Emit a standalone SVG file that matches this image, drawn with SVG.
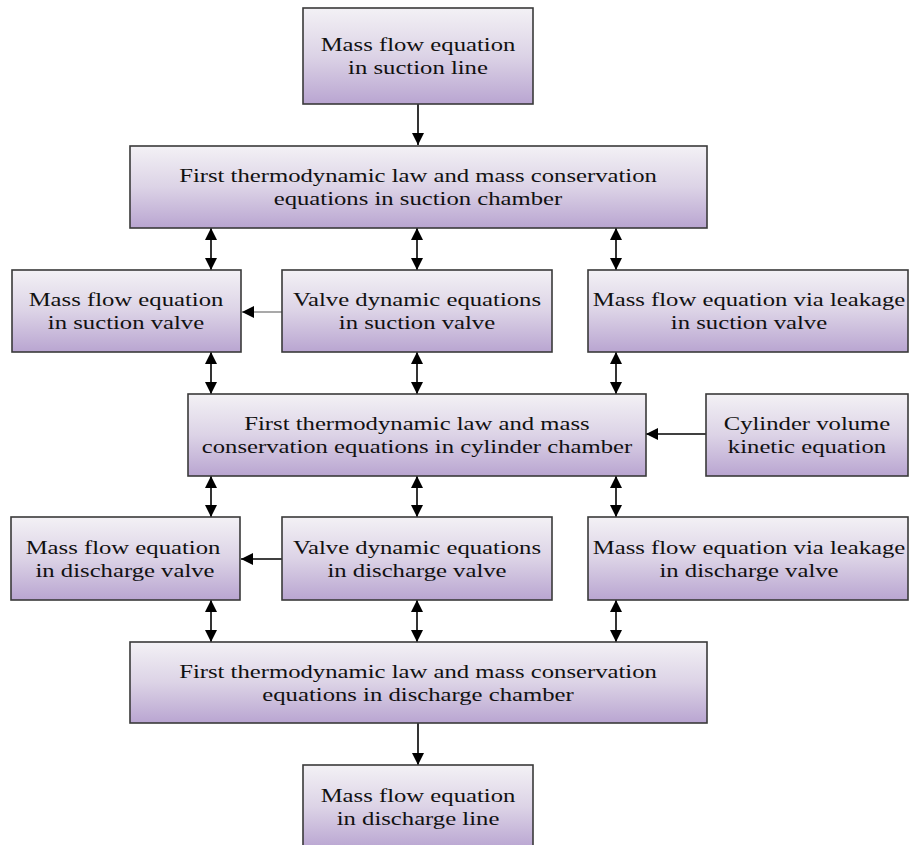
<svg xmlns="http://www.w3.org/2000/svg" width="909" height="845" viewBox="0 0 909 845">
<defs>
<linearGradient id="g" x1="0" y1="0" x2="0" y2="1">
<stop offset="0" stop-color="#f3f1f5"/>
<stop offset="0.5" stop-color="#dcd3e6"/>
<stop offset="1" stop-color="#b9a5d1"/>
</linearGradient>
<marker id="ah" viewBox="0 0 12 12" refX="12" refY="6" markerWidth="12" markerHeight="12" markerUnits="userSpaceOnUse" orient="auto-start-reverse">
<path d="M0,0 L12,6 L0,12 z" fill="#000"/>
</marker>
</defs>
<style>
.box{fill:url(#g);stroke:#3a3a3a;stroke-width:1.6}
.t{font-family:"Liberation Serif","Times New Roman",serif;font-size:19px;fill:#111;text-anchor:middle}
.c{stroke:#000;stroke-width:1.6;fill:none}
.thin{stroke:#555;stroke-width:1.2;fill:none}
</style>
<rect width="909" height="845" fill="#fff"/>

<g id="connectors">
<line class="c" x1="418" y1="104" x2="418" y2="145" marker-end="url(#ah)"/>
<line class="c" x1="211" y1="228" x2="211" y2="270" marker-start="url(#ah)" marker-end="url(#ah)"/>
<line class="c" x1="417" y1="228" x2="417" y2="270" marker-start="url(#ah)" marker-end="url(#ah)"/>
<line class="c" x1="616" y1="228" x2="616" y2="270" marker-start="url(#ah)" marker-end="url(#ah)"/>
<line class="thin" x1="282" y1="312" x2="242" y2="312" marker-end="url(#ah)"/>
<line class="c" x1="211" y1="352" x2="211" y2="394" marker-start="url(#ah)" marker-end="url(#ah)"/>
<line class="c" x1="417" y1="352" x2="417" y2="394" marker-start="url(#ah)" marker-end="url(#ah)"/>
<line class="c" x1="616" y1="352" x2="616" y2="394" marker-start="url(#ah)" marker-end="url(#ah)"/>
<line class="c" x1="706" y1="434" x2="646" y2="434" marker-end="url(#ah)"/>
<line class="c" x1="211" y1="476" x2="211" y2="517" marker-start="url(#ah)" marker-end="url(#ah)"/>
<line class="c" x1="417" y1="476" x2="417" y2="517" marker-start="url(#ah)" marker-end="url(#ah)"/>
<line class="c" x1="616" y1="476" x2="616" y2="517" marker-start="url(#ah)" marker-end="url(#ah)"/>
<line class="c" x1="282" y1="559" x2="241" y2="559" marker-end="url(#ah)"/>
<line class="c" x1="211" y1="600" x2="211" y2="642" marker-start="url(#ah)" marker-end="url(#ah)"/>
<line class="c" x1="417" y1="600" x2="417" y2="642" marker-start="url(#ah)" marker-end="url(#ah)"/>
<line class="c" x1="616" y1="600" x2="616" y2="642" marker-start="url(#ah)" marker-end="url(#ah)"/>
<line class="c" x1="418" y1="723" x2="418" y2="765" marker-end="url(#ah)"/>
</g>

<g id="n1">
<rect class="box" x="303" y="8" width="230" height="96"/>
<text class="t" transform="translate(418 51) scale(1.3 1)">Mass flow equation</text>
<text class="t" transform="translate(418 74) scale(1.3 1)">in suction line</text>
</g>

<g id="n2">
<rect class="box" x="130" y="146" width="577" height="82"/>
<text class="t" transform="translate(418 182) scale(1.3 1)">First thermodynamic law and mass conservation</text>
<text class="t" transform="translate(418 205) scale(1.3 1)">equations in suction chamber</text>
</g>

<g id="n3">
<rect class="box" x="12" y="270" width="229" height="82"/>
<text class="t" transform="translate(126 306) scale(1.3 1)">Mass flow equation</text>
<text class="t" transform="translate(126 329) scale(1.3 1)">in suction valve</text>
</g>

<g id="n4">
<rect class="box" x="282" y="270" width="270" height="82"/>
<text class="t" transform="translate(417 306) scale(1.3 1)">Valve dynamic equations</text>
<text class="t" transform="translate(417 329) scale(1.3 1)">in suction valve</text>
</g>

<g id="n5">
<rect class="box" x="588" y="270" width="320" height="82"/>
<text class="t" transform="translate(749 306) scale(1.3 1)">Mass flow equation via leakage</text>
<text class="t" transform="translate(749 329) scale(1.3 1)">in suction valve</text>
</g>

<g id="n6">
<rect class="box" x="188" y="394" width="458" height="82"/>
<text class="t" transform="translate(417 430) scale(1.3 1)">First thermodynamic law and mass</text>
<text class="t" transform="translate(417 453) scale(1.3 1)">conservation equations in cylinder chamber</text>
</g>

<g id="n7">
<rect class="box" x="706" y="394" width="202" height="82"/>
<text class="t" transform="translate(807 430) scale(1.3 1)">Cylinder volume</text>
<text class="t" transform="translate(807 453) scale(1.3 1)">kinetic equation</text>
</g>

<g id="n8">
<rect class="box" x="11" y="517" width="229" height="83"/>
<text class="t" transform="translate(123 554) scale(1.3 1)">Mass flow equation</text>
<text class="t" transform="translate(125 577) scale(1.3 1)">in discharge valve</text>
</g>

<g id="n9">
<rect class="box" x="282" y="517" width="270" height="83"/>
<text class="t" transform="translate(417 554) scale(1.3 1)">Valve dynamic equations</text>
<text class="t" transform="translate(417 577) scale(1.3 1)">in discharge valve</text>
</g>

<g id="n10">
<rect class="box" x="588" y="517" width="320" height="83"/>
<text class="t" transform="translate(749 554) scale(1.3 1)">Mass flow equation via leakage</text>
<text class="t" transform="translate(749 577) scale(1.3 1)">in discharge valve</text>
</g>

<g id="n11">
<rect class="box" x="130" y="642" width="577" height="81"/>
<text class="t" transform="translate(418 678) scale(1.3 1)">First thermodynamic law and mass conservation</text>
<text class="t" transform="translate(418 701) scale(1.3 1)">equations in discharge chamber</text>
</g>

<g id="n12">
<rect class="box" x="303" y="765" width="230" height="84"/>
<text class="t" transform="translate(418 802) scale(1.3 1)">Mass flow equation</text>
<text class="t" transform="translate(418 825) scale(1.3 1)">in discharge line</text>
</g>
</svg>
